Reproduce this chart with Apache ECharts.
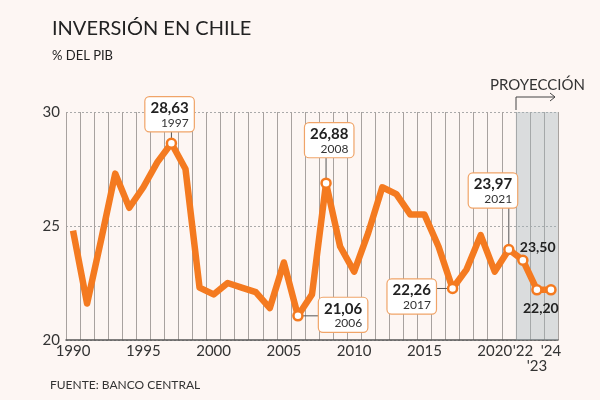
<!DOCTYPE html>
<html>
<head>
<meta charset="utf-8">
<script src="https://cdn.jsdelivr.net/npm/echarts@6/dist/echarts.min.js"></script>
<style>
    html, body { margin: 0; padding: 0; background: #fdf6f3; }
    #chart { width: 600px; height: 400px; }
</style>
</head>
<body>
<div id="chart"></div>
<script>
(function (window) {
    'use strict';

    // datos
    var years = ['1990', '1991', '1992', '1993', '1994', '1995', '1996', '1997', '1998', '1999',
                 '2000', '2001', '2002', '2003', '2004', '2005', '2006', '2007', '2008', '2009',
                 '2010', '2011', '2012', '2013', '2014', '2015', '2016', '2017', '2018', '2019',
                 '2020', '2021', '2022', '2023', '2024'];
    var inversion = [24.8, 21.6, 24.4, 27.3, 25.8, 26.7, 27.8, 28.63, 27.5, 22.3,
                     22.0, 22.5, 22.3, 22.1, 21.4, 23.4, 21.06, 22.0, 26.88, 24.1,
                     23.0, 24.7, 26.7, 26.4, 25.5, 25.5, 24.1, 22.26, 23.1, 24.6,
                     23.0, 23.97, 23.5, 22.2, 22.2];
    var projectionYears = ['2022', '2023', '2024'];
    var boxedYears = ['1997', '2006', '2008', '2017', '2021'];
    var plainYears = ['2022', '2023'];
    var markedYears = ['1997', '2006', '2008', '2017', '2021', '2022', '2023', '2024'];
    var yTicks = [20, 25, 30];

    var orange = '#f47a20';
    var font = 'Lato, "Noto Sans", sans-serif';

    //posicion de etiquetas (esquina sup. izq. respecto al punto) y guia
    var labelPlace = {
        '1997': {offset: [-26, -46], leader: [0, -15]},
        '2008': {offset: [-21, -60], leader: [0, -28]},
        '2006': {offset: [21, -18], leader: [21, 0]},
        '2017': {offset: [-65, -9], leader: [-17, 0]},
        '2021': {offset: [-40, -76], leader: [0, -45]},
        '2022': {offset: [-3, -20]},
        '2023': {offset: [-14, 12]}
    };

    function fmt(v) {
        return v.toFixed(2).replace('.', ',');
    }

    var lineData = inversion.map(function (v, i) {
        var y = years[i];
        var item = {value: v};
        if (markedYears.indexOf(y) >= 0) {
            item.symbol = 'circle';
            item.symbolSize = 9;
        }
        if (boxedYears.indexOf(y) >= 0) {
            item.label = {
                show: true,
                position: 'inside',
                align: 'left',
                verticalAlign: 'top',
                formatter: '{v|' + fmt(v) + '}\n{y|' + y + '}',
                backgroundColor: '#fff',
                borderColor: '#f0a468',
                borderWidth: 1.2,
                borderRadius: 4,
                padding: [3, 5, 2, 5],
                rich: {
                    v: {fontFamily: font, fontSize: 15, fontWeight: 'bold', color: '#222', align: 'right', lineHeight: 16},
                    y: {fontFamily: font, fontSize: 12, color: '#333', align: 'right', lineHeight: 13}
                }
            };
        } else if (plainYears.indexOf(y) >= 0) {
            item.label = {
                show: true,
                position: 'inside',
                align: 'left',
                verticalAlign: 'top',
                formatter: fmt(v),
                fontFamily: font,
                fontSize: 14,
                fontWeight: 'bold',
                color: '#222'
            };
        }
        return item;
    });

    var shade = years.map(function (y) {
        return projectionYears.indexOf(y) >= 0 ? yTicks[yTicks.length - 1] : null;
    });

    var option = {
        backgroundColor: '#fdf6f3',
        animation: false,
        title: [{
            text: 'INVERSIÓN EN CHILE',
            left: 47, top: 14,
            textStyle: {fontFamily: font, fontSize: 20, fontWeight: 'normal', color: '#222'}
        }, {
            text: '% DEL PIB',
            left: 47, top: 44,
            textStyle: {fontFamily: font, fontSize: 13, fontWeight: 'normal', color: '#222'}
        }, {
            text: 'FUENTE: BANCO CENTRAL',
            left: 45, top: 374,
            textStyle: {fontFamily: font, fontSize: 12, fontWeight: 'normal', color: '#333'}
        }, {
            text: 'PROYECCIÓN',
            left: 485, top: 73,
            textStyle: {fontFamily: font, fontSize: 15, fontWeight: 'normal', color: '#333'}
        }],
        graphic: [{
            type: 'polyline',
            shape: {points: [[516, 110], [516, 97], [555, 97]]},
            style: {stroke: '#444', lineWidth: 1, fill: null}
        }, {
            type: 'polyline',
            shape: {points: [[550, 93], [555, 97], [550, 101]]},
            style: {stroke: '#444', lineWidth: 1, fill: null}
        }],
        grid: {left: 66, right: 42, top: 112, bottom: 60},
        xAxis: {
            type: 'category',
            data: years,
            boundaryGap: true,
            axisLine: {lineStyle: {color: '#555', width: 1.5}},
            axisTick: {show: false},
            splitLine: {show: true, interval: 0, lineStyle: {color: '#a8a29f', width: 1}},
            axisLabel: {
                interval: 0,
                margin: 4,
                fontFamily: font,
                fontSize: 15,
                color: '#333',
                formatter: function (y) {
                    var n = +y;
                    if (n <= 2020 && n % 5 === 0) return y;
                    if (n === 2022 || n === 2024) return '\'' + y.slice(2);
                    if (n === 2023) return '\n\'' + y.slice(2);
                    return '';
                }
            }
        },
        yAxis: {
            type: 'value',
            min: yTicks[0],
            max: yTicks[yTicks.length - 1],
            interval: 5,
            axisLine: {show: false},
            axisTick: {show: false},
            axisLabel: {fontFamily: font, fontSize: 15, color: '#333', margin: 6},
            splitLine: {lineStyle: {color: '#aaa', type: [2, 2], width: 1}}
        },
        series: [{
            name: 'proyeccion',
            type: 'bar',
            data: shade,
            barWidth: '100%',
            barCategoryGap: 0,
            silent: true,
            itemStyle: {color: 'rgba(160,180,186,0.38)'},
            z: 1
        }, {
            name: 'inversion',
            type: 'line',
            data: lineData,
            symbol: 'none',
            lineStyle: {color: orange, width: 6.5, join: 'round'},
            itemStyle: {color: '#fff', borderColor: orange, borderWidth: 2.5},
            labelLayout: function (params) {
                var place = labelPlace[years[params.dataIndex]];
                if (!place) return {};
                return {dx: place.offset[0], dy: place.offset[1], hideOverlap: false};
            },
            z: 3
        }]
    };

    var et = echarts.init(document.getElementById('chart'));
    et.setOption(option);

    //lineas guia de las etiquetas, desde el punto
    var leaders = [];
    boxedYears.forEach(function (y) {
        var i = years.indexOf(y);
        var p = et.convertToPixel({seriesIndex: 1}, [i, inversion[i]]);
        var d = labelPlace[y].leader;
        leaders.push({
            type: 'line',
            z: 2,
            shape: {x1: p[0], y1: p[1], x2: p[0] + d[0], y2: p[1] + d[1]},
            style: {stroke: '#555', lineWidth: 1}
        });
    });
    et.setOption({graphic: option.graphic.concat(leaders)});
})(window);
</script>
</body>
</html>
